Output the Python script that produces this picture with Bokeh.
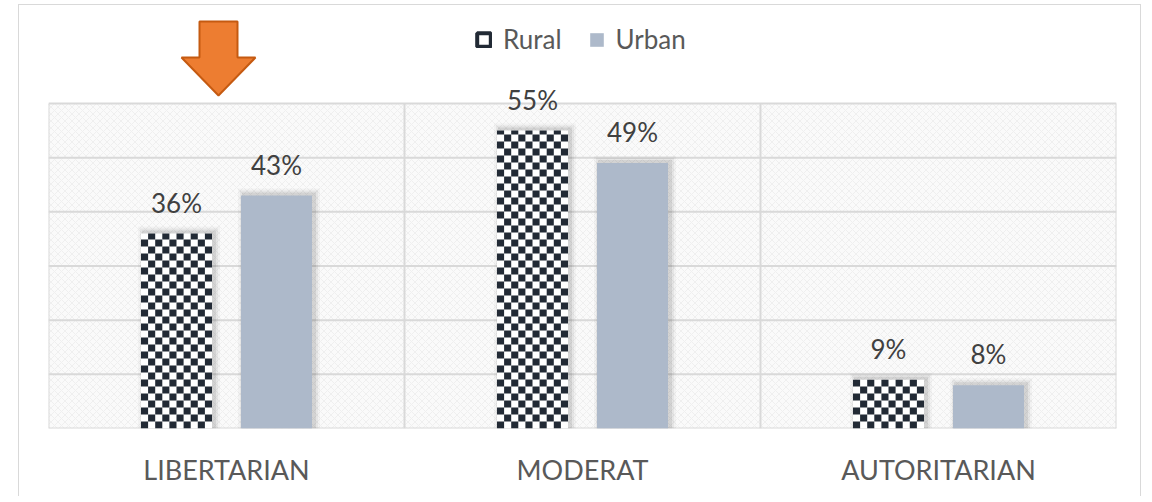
import math
from bokeh.plotting import figure
from bokeh.models import (Range1d, FixedTicker, ColumnDataSource, LabelSet,
                          Legend, LegendItem)
from bokeh.core.properties import value
from bokeh.embed import file_html
from bokeh.resources import INLINE

# ---------------- data ----------------
categories = ["LIBERTARIAN", "MODERAT", "AUTORITARIAN"]
series_names = ["Rural", "Urban"]
rural = [0.36, 0.55, 0.09]
urban = [0.43, 0.49, 0.08]
y_ticks = [0.0, 0.1, 0.2, 0.3, 0.4, 0.5, 0.6]

# ---------------- geometry ----------------
PLOT_W, PLOT_H = 1068, 325      # pixel size of the value area (0..60%)
TOP_SPACE = 98                  # pixels above the value area (legend, arrow)
Y_MAX = 0.6
N = len(categories)
PX_X = N / PLOT_W
PX_Y = Y_MAX / PLOT_H
Y_TOP = Y_MAX + TOP_SPACE * PX_Y

centers = [i + 0.5 for i in range(N)]
OFF = 50 * PX_X
BW = 71 * PX_X
rural_x = [c - OFF for c in centers]
urban_x = [c + OFF for c in centers]

DARK = "#222A35"
URBAN_C = "#ADB9CA"
GRID_C = "#d9d9d9"
FONT = value("Lato")
NAN = float("nan")

p = figure(width=1123, height=492, x_range=Range1d(0, N), y_range=Range1d(0, Y_TOP),
           output_backend="svg", toolbar_location=None, y_axis_location=None,
           min_border_left=29, min_border_right=26, min_border_top=0, min_border_bottom=69,
           background_fill_color="white", border_fill_color="white",
           outline_line_color=None)
p.margin = (4, 0, 0, 18)
p.styles = {"border-top": "1px solid #d9d9d9", "border-left": "1px solid #d9d9d9",
            "border-right": "1px solid #d9d9d9"}
p.grid.visible = False

# value-area background with weave texture
p.quad(left=[0], right=[N], bottom=[0], top=[Y_MAX], fill_color="#fafafa", line_color=None,
       hatch_pattern="diagonal_cross", hatch_color="#efefef", hatch_scale=7, hatch_weight=1)

# grid lines restricted to the value area
p.segment(x0=[0] * len(y_ticks), x1=[N] * len(y_ticks), y0=y_ticks, y1=y_ticks,
          line_color=GRID_C, line_width=2)
p.segment(x0=list(range(N + 1)), x1=list(range(N + 1)), y0=[0] * (N + 1),
          y1=[Y_MAX] * (N + 1), line_color=GRID_C, line_width=2)

# soft shadows (mostly to the right / top)
for xs, vals in ((rural_x, rural), (urban_x, urban)):
    for grow, alpha in ((7, 0.03), (5, 0.05), (3, 0.08)):
        p.quad(left=[x - BW / 2 - (grow - 4) * PX_X for x in xs],
               right=[x + BW / 2 + (grow + 1) * PX_X for x in xs],
               bottom=[0] * N, top=[v + grow * PX_Y for v in vals],
               fill_color="black", fill_alpha=alpha, line_color=None)

# rural bars: checkerboard
p.quad(left=[x - BW / 2 for x in rural_x], right=[x + BW / 2 for x in rural_x],
       bottom=[0] * N, top=rural, fill_color="white", line_color=None)
NCOLS = 10
cw = BW / NCOLS
ch = 7 * PX_Y
cl, cr, cb, ct = [], [], [], []
for x, v in zip(rural_x, rural):
    nrows = math.ceil(v / ch)
    for r in range(nrows):
        for c in range(NCOLS):
            if (r + c) % 2 == 0:
                cl.append(x - BW / 2 + c * cw)
                cr.append(x - BW / 2 + (c + 1) * cw)
                cb.append(r * ch)
                ct.append(min((r + 1) * ch, v))
p.quad(left=cl, right=cr, bottom=cb, top=ct, fill_color=DARK, line_color=None)

# urban bars
p.quad(left=[x - BW / 2 for x in urban_x], right=[x + BW / 2 for x in urban_x],
       bottom=[0] * N, top=urban, fill_color=URBAN_C, line_color=None)

# data labels
lab_src = ColumnDataSource(dict(
    x=rural_x + urban_x, y=rural + urban,
    text=[f"{round(v * 100)}%" for v in rural + urban]))
p.add_layout(LabelSet(x="x", y="y", text="text", source=lab_src, y_offset=21,
                      text_align="center", text_baseline="alphabetic",
                      text_font=FONT, text_font_size="26px", text_color="#404040"))

# x axis
p.xaxis.ticker = FixedTicker(ticks=centers)
p.xaxis.major_label_overrides = {c: name for c, name in zip(centers, categories)}
p.xaxis.axis_line_color = None
p.xaxis.major_tick_line_color = None
p.xaxis.minor_tick_line_color = None
p.xaxis.major_tick_out = 0
p.xaxis.major_label_standoff = 24
p.xaxis.major_label_text_font = "Lato"
p.xaxis.major_label_text_font_size = "27px"
p.xaxis.major_label_text_color = "#595959"

# legend (swatch renderers hold no visible data)
r_leg = p.quad(left=[NAN], right=[NAN], top=[NAN], bottom=[NAN], fill_color="white",
               line_color=DARK, line_width=4)
u_leg = p.quad(left=[NAN], right=[NAN], top=[NAN], bottom=[NAN], fill_color=URBAN_C,
               line_color=None)
legend = Legend(items=[LegendItem(label=series_names[0], renderers=[r_leg]),
                       LegendItem(label=series_names[1], renderers=[u_leg])],
                location=(427, 373), orientation="horizontal",
                glyph_width=17, glyph_height=17, label_standoff=11, spacing=26,
                padding=0, margin=0, border_line_color=None, background_fill_alpha=0,
                label_text_font="Lato", label_text_font_size="26px",
                label_text_color="#595959")
p.add_layout(legend)

# orange arrow pointing at the first category
tip_x = centers[0] - 8 * PX_X
tip_y = Y_MAX + 8 * PX_Y
arrow_dx = [-19, 19, 19, 37, 0, -37, -19]
arrow_dy = [74, 74, 38, 38, 0, 38, 38]
p.patch(x=[tip_x + d * PX_X for d in arrow_dx],
        y=[tip_y + d * PX_Y for d in arrow_dy],
        fill_color="#ED7D31", line_color="#C55A11", line_width=2)

open("out.html", "w").write(file_html(p, INLINE))
